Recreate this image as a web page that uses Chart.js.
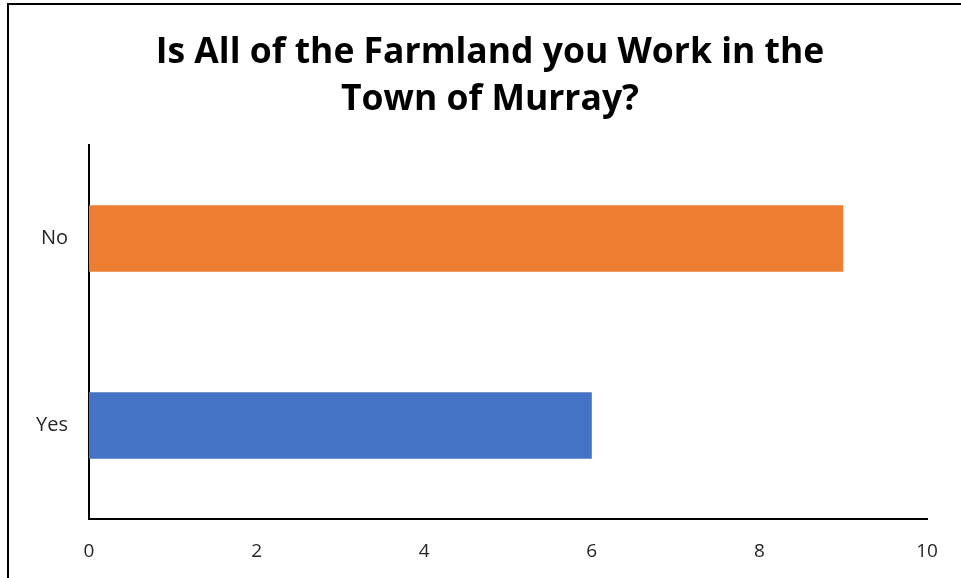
<!DOCTYPE html>
<html>
<head>
<meta charset="utf-8">
<script src="https://cdn.jsdelivr.net/npm/chart.js@4"></script>
<style>
  html, body { margin: 0; padding: 0; background: #fff; }
  #wrap { position: relative; width: 961px; height: 578px; overflow: hidden; }
  #frame { position: absolute; left: 7px; top: 3px; right: -5px; bottom: -5px;
           border-top: 2px solid #000; border-left: 2px solid #000; }
  canvas { position: absolute; left: 0; top: 0; }
</style>
</head>
<body>
<div id="wrap">
  <div id="frame"></div>
  <canvas id="chart" width="961" height="578"></canvas>
</div>
<script>
// Gegevens uit de grafiek
const categories = ['No', 'Yes'];
const counts = [9, 6];
const barColors = ['#ED7D31', '#4472C4'];
const titleLines = ['Is All of the Farmland you Work in the', 'Town of Murray?'];

// Verschuif de titel iets naar rechts, zoals in het origineel
const shiftTitle = {
    id: 'shiftTitle',
    afterLayout(chart) {
        if (chart.titleBlock) chart.titleBlock.left = 53;
    }
};

const ctx = document.getElementById('chart').getContext('2d');
new Chart(ctx, {
    type: 'bar',
    data: {
        labels: categories,
        datasets: [{
            data: counts,
            backgroundColor: barColors,
            categoryPercentage: 1,
            barPercentage: 0.355
        }]
    },
    options: {
        indexAxis: 'y',
        responsive: false,
        animation: false,
        layout: { padding: { top: 29, right: 34, left: 0, bottom: 0 } },
        plugins: {
            legend: { display: false },
            tooltip: { enabled: false },
            title: {
                display: true,
                text: titleLines,
                color: '#000',
                font: { family: 'Open Sans', size: 35.5, weight: 'bold', lineHeight: 1.324 },
                padding: { top: 0, bottom: 22 }
            }
        },
        scales: {
            x: {
                min: 0,
                max: 10,
                ticks: {
                    stepSize: 2,
                    color: '#262626',
                    padding: 21,
                    font: { family: 'Open Sans', size: 19 }
                },
                grid: { display: false, drawTicks: false },
                border: { display: true, color: '#000', width: 2 },
                afterFit: s => { s.height = 59; }
            },
            y: {
                ticks: {
                    color: '#262626',
                    padding: 21,
                    font: { family: 'Open Sans', size: 20 }
                },
                grid: { display: false, drawTicks: false },
                border: { display: true, color: '#000', width: 2 },
                afterFit: s => { s.width = 89; }
            }
        }
    },
    plugins: [shiftTitle]
});
</script>
</body>
</html>
